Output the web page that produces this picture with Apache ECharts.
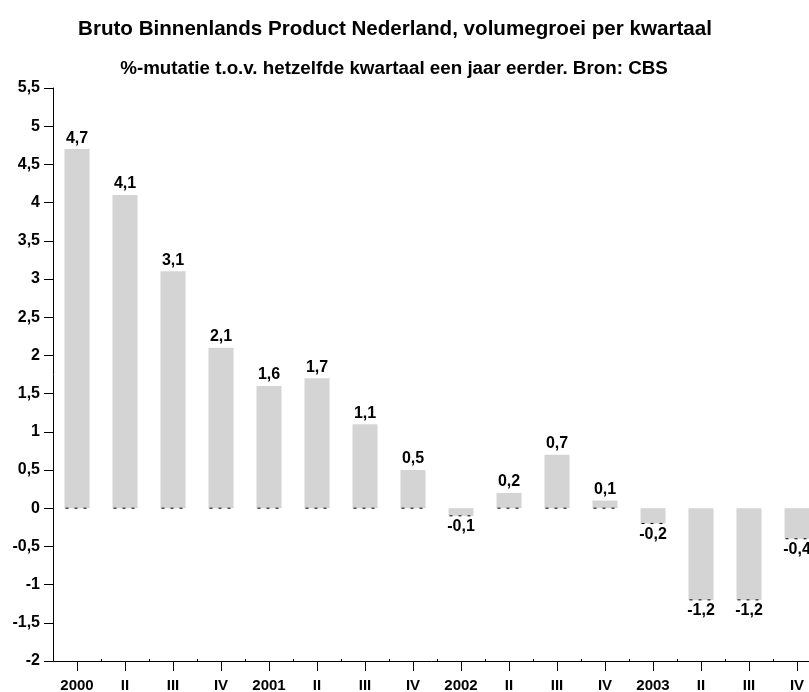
<!DOCTYPE html>
<html>
<head>
<meta charset="utf-8">
<script src="https://cdn.jsdelivr.net/npm/echarts@6/dist/echarts.min.js"></script>
<style>
  html, body { margin: 0; padding: 0; background: #fff; }
  #main { width: 809px; height: 692px; }
</style>
</head>
<body>
<div id="main"></div>
<script>
// kwartalen
var categories = ['2000', 'II', 'III', 'IV', '2001', 'II', 'III', 'IV',
                  '2002', 'II', 'III', 'IV', '2003', 'II', 'III', 'IV'];
// volumegroei %
var values = [4.7, 4.1, 3.1, 2.1, 1.6, 1.7, 1.1, 0.5,
              -0.1, 0.2, 0.7, 0.1, -0.2, -1.2, -1.2, -0.4];

var comma = function (v) { return String(v).replace('.', ','); };
var font = 'Liberation Sans';

var chart = echarts.init(document.getElementById('main'));
chart.setOption({
  animation: false,
  title: [
    {
      text: 'Bruto Binnenlands Product Nederland, volumegroei per kwartaal',
      left: 390, top: 14, textAlign: 'center',
      textStyle: { fontFamily: font, fontSize: 20.6, fontWeight: 'bold', color: '#000' }
    },
    {
      text: '%-mutatie t.o.v. hetzelfde kwartaal een jaar eerder. Bron: CBS',
      left: 389, top: 54, textAlign: 'center',
      textStyle: { fontFamily: font, fontSize: 18.8, fontWeight: 'bold', color: '#000' }
    }
  ],
  grid: { left: 53, top: 88, width: 768, bottom: 31, containLabel: false, outerBoundsMode: 'none' },
  xAxis: [
    {
      type: 'category',
      data: categories,
      axisLine: { onZero: false, lineStyle: { color: '#000', width: 1 } },
      axisTick: { show: true, alignWithLabel: true, length: 10, lineStyle: { color: '#000' } },
      axisLabel: { margin: 17, color: '#000', fontFamily: font, fontSize: 15, fontWeight: 'bold', interval: 0 }
    },
    {
      type: 'category',
      data: categories,
      position: 'bottom',
      axisLine: { show: false, onZero: false },
      axisTick: { show: true, inside: true, length: 2, lineStyle: { color: '#000' } },
      axisLabel: { show: false }
    }
  ],
  yAxis: {
    type: 'value',
    min: -2, max: 5.5, interval: 0.5,
    axisLine: { show: true, lineStyle: { color: '#000' } },
    axisTick: { show: true, length: 9, lineStyle: { color: '#000' } },
    splitLine: { show: false },
    axisLabel: {
      margin: 13, color: '#000', fontFamily: font, fontSize: 16, fontWeight: 'bold',
      formatter: function (v) { return comma(v); }
    }
  },
  series: [
    {
      type: 'bar',
      data: values.map(function (v) {
        return v < 0 ? { value: v, label: { position: 'bottom' } } : v;
      }),
      barWidth: 25,
      itemStyle: { color: '#d4d4d4' },
      label: {
        show: true,
        position: 'top',
        distance: 3,
        color: '#000', fontFamily: font, fontSize: 16, fontWeight: 'bold',
        formatter: function (p) { return comma(p.value); }
      }
    },
    {
      // gestippelde onderrand van elke staaf
      type: 'custom',
      data: values.map(function (v, i) { return [i, v]; }),
      z: 5,
      renderItem: function (params, api) {
        var v = api.value(1);
        var base = api.coord([api.value(0), Math.min(0, v)]);
        var w = 25;
        return {
          type: 'line',
          shape: { x1: base[0] - w / 2, y1: base[1], x2: base[0] + w / 2, y2: base[1] },
          style: { stroke: '#000', lineWidth: 1, lineDash: [3, 6], lineDashOffset: -1 }
        };
      },
      encode: { x: 0, y: 1 }
    }
  ]
});
</script>
</body>
</html>
